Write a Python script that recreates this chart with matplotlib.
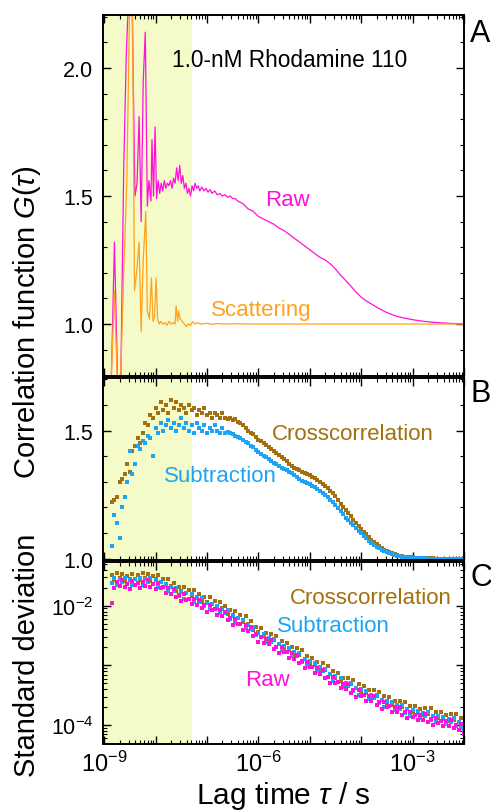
import matplotlib
matplotlib.use("Agg")
import matplotlib.pyplot as plt
import numpy as np
from matplotlib.ticker import LogLocator, MultipleLocator, FuncFormatter, NullFormatter

plt.rcParams['font.family'] = ['Liberation Sans', 'DejaVu Sans']
plt.rcParams['mathtext.fontset'] = 'custom'
plt.rcParams['mathtext.rm'] = 'Liberation Sans'
plt.rcParams['mathtext.it'] = 'Liberation Sans:italic'

# --- panel A: raw and scattering correlation (log10 lag time, G) ---
RAW_EXP = [-8.87, -8.80, -8.73, -8.68, -8.62, -8.57, -8.52, -8.46, -8.40, -8.36,
           -8.32, -8.28, -8.24, -8.20, -8.16, -8.13, -8.09, -8.07, -8.04, -8.01,
           -7.98, -7.95, -7.92, -7.89, -7.86, -7.83, -7.80, -7.77, -7.74, -7.71,
           -7.68, -7.65, -7.62, -7.59, -7.56, -7.53, -7.50, -7.47, -7.44, -7.41,
           -7.38, -7.35, -7.32, -7.29, -7.26, -7.23, -7.20, -7.17, -7.14, -7.10,
           -7.06, -7.02, -6.98, -6.94, -6.90, -6.85, -6.80, -6.75, -6.70, -6.65,
           -6.60, -6.55, -6.50, -6.45, -6.40, -6.35, -6.30, -6.25, -6.20, -6.10,
           -6.00, -5.90, -5.80, -5.70, -5.60, -5.50, -5.40, -5.30, -5.20, -5.10,
           -5.00, -4.90, -4.80, -4.70, -4.60, -4.50, -4.40, -4.30, -4.20, -4.10,
           -4.00, -3.90, -3.80, -3.70, -3.60, -3.50, -3.40, -3.30, -3.20, -3.00,
           -2.80, -2.60, -2.40, -2.20, -2.00]
RAW_G = [0.70, 1.32, 0.70, 0.72, 1.60, 2.05, 2.30, 2.30, 1.50, 1.55,
         1.81, 1.40, 1.95, 2.14, 1.46, 1.56, 1.48, 1.72, 1.50, 1.77,
         1.49, 1.56, 1.51, 1.55, 1.52, 1.56, 1.53, 1.55, 1.54, 1.56,
         1.53, 1.57, 1.55, 1.61, 1.56, 1.62, 1.55, 1.58, 1.53, 1.55,
         1.51, 1.53, 1.50, 1.54, 1.52, 1.55, 1.53, 1.54, 1.52, 1.535,
         1.52, 1.53, 1.515, 1.525, 1.51, 1.52, 1.505, 1.51, 1.50, 1.505,
         1.495, 1.50, 1.49, 1.49, 1.48, 1.475, 1.47, 1.46, 1.45, 1.44,
         1.42, 1.41, 1.40, 1.39, 1.375, 1.365, 1.35, 1.335, 1.32, 1.305,
         1.29, 1.275, 1.26, 1.25, 1.235, 1.215, 1.19, 1.17, 1.148, 1.125,
         1.105, 1.09, 1.078, 1.066, 1.055, 1.045, 1.037, 1.030, 1.025, 1.017,
         1.011, 1.007, 1.004, 1.002, 1.000]

SCAT_EXP = [-8.87, -8.80, -8.74, -8.68, -8.62, -8.56, -8.50, -8.45, -8.41, -8.37,
            -8.32, -8.28, -8.24, -8.19, -8.16, -8.12, -8.08, -8.05, -8.02, -7.99,
            -7.96, -7.93, -7.90, -7.86, -7.82, -7.78, -7.74, -7.70, -7.66, -7.62,
            -7.60, -7.57, -7.55, -7.52, -7.48, -7.44, -7.40, -7.36, -7.32, -7.28,
            -7.24, -7.20, -7.10, -7.00, -6.90, -6.80, -6.70, -6.50, -6.00, -5.00,
            -4.00, -3.00, -2.00]
SCAT_G = [0.75, 1.13, 0.75, 0.78, 1.20, 1.55, 2.30, 2.30, 1.13, 1.20,
          1.32, 0.97, 1.25, 1.44, 1.05, 1.02, 1.18, 1.01, 1.03, 1.18,
          1.02, 1.00, 1.01, 1.00, 1.005, 0.995, 1.01, 1.00, 1.005, 1.00,
          1.07, 1.01, 1.05, 1.02, 1.01, 1.00, 0.99, 1.00, 0.995, 1.01,
          1.00, 1.005, 1.00, 1.003, 0.999, 1.002, 1.00, 1.001, 1.00, 1.00,
          1.00, 1.00, 1.00]

# --- panels B and C share the lag-time grid (log10 s), 0.05 steps ---
LAG_EXP = [-8.85, -8.80, -8.75, -8.70, -8.65, -8.60, -8.55, -8.50, -8.45, -8.40,
           -8.35, -8.30, -8.25, -8.20, -8.15, -8.10, -8.05, -8.00, -7.95, -7.90,
           -7.85, -7.80, -7.75, -7.70, -7.65, -7.60, -7.55, -7.50, -7.45, -7.40,
           -7.35, -7.30, -7.25, -7.20, -7.15, -7.10, -7.05, -7.00, -6.95, -6.90,
           -6.85, -6.80, -6.75, -6.70, -6.65, -6.60, -6.55, -6.50, -6.45, -6.40,
           -6.35, -6.30, -6.25, -6.20, -6.15, -6.10, -6.05, -6.00,
           -5.95, -5.90, -5.85, -5.80, -5.75, -5.70, -5.65, -5.60, -5.55, -5.50,
           -5.45, -5.40, -5.35, -5.30, -5.25, -5.20, -5.15, -5.10, -5.05, -5.00,
           -4.95, -4.90, -4.85, -4.80, -4.75, -4.70, -4.65, -4.60, -4.55, -4.50,
           -4.45, -4.40, -4.35, -4.30, -4.25, -4.20, -4.15, -4.10, -4.05, -4.00,
           -3.95, -3.90, -3.85, -3.80, -3.75, -3.70, -3.65, -3.60, -3.55, -3.50,
           -3.45, -3.40, -3.35, -3.30, -3.25, -3.20, -3.15, -3.10, -3.05, -3.00,
           -2.95, -2.90, -2.85, -2.80, -2.75, -2.70, -2.65, -2.60, -2.55, -2.50,
           -2.45, -2.40, -2.35, -2.30, -2.25, -2.20, -2.15, -2.10, -2.05, -2.00]

CROSS_B = [1.22, 1.23, 1.24, 1.30, 1.31, 1.33, 1.37, 1.34, 1.42, 1.44,
           1.47, 1.45, 1.49, 1.53, 1.52, 1.56, 1.55, 1.59, 1.57, 1.61,
           1.58, 1.60, 1.57, 1.62, 1.59, 1.61, 1.58, 1.60, 1.59, 1.57,
           1.60, 1.58, 1.59, 1.56, 1.58, 1.57, 1.59, 1.56, 1.57, 1.55,
           1.57, 1.56, 1.55, 1.57, 1.55, 1.545, 1.55, 1.54, 1.545, 1.535,
           1.53, 1.52, 1.51, 1.50, 1.49, 1.485, 1.475, 1.465,
           1.458, 1.45, 1.443, 1.435, 1.428, 1.42, 1.412, 1.405, 1.397, 1.39,
           1.38, 1.37, 1.362, 1.355, 1.35, 1.345, 1.34, 1.335, 1.33, 1.325,
           1.32, 1.315, 1.308, 1.30, 1.293, 1.285, 1.275, 1.265, 1.255, 1.245,
           1.23, 1.215, 1.203, 1.19, 1.178, 1.165, 1.153, 1.14, 1.128, 1.115,
           1.105, 1.095, 1.085, 1.075, 1.066, 1.057, 1.049, 1.042, 1.036, 1.031,
           1.026, 1.022, 1.018, 1.015, 1.012, 1.010, 1.008, 1.007, 1.006, 1.005,
           1.004, 1.003, 1.0025, 1.002, 1.0015, 1.001, 1.001, 1.001, 1.0005, 1.000,
           1.000, 1.000, 1.000, 1.000, 1.000, 1.000, 1.000, 1.000, 1.000, 1.000]
SUB_B = [1.05, 1.17, 1.14, 1.08, 1.20, 1.24, 1.30, 1.42, 1.33, 1.37,
         1.44, 1.43, 1.46, 1.45, 1.48, 1.47, 1.40, 1.51, 1.49, 1.53,
         1.50, 1.52, 1.54, 1.51, 1.53, 1.50, 1.52, 1.55, 1.51, 1.53,
         1.50, 1.52, 1.49, 1.53, 1.51, 1.50, 1.52, 1.49, 1.51, 1.50,
         1.52, 1.50, 1.49, 1.51, 1.49, 1.495, 1.49, 1.485, 1.48, 1.475,
         1.47, 1.465, 1.455, 1.45, 1.44, 1.435, 1.425, 1.415,
         1.408, 1.40, 1.395, 1.39, 1.383, 1.375, 1.368, 1.36, 1.355, 1.35,
         1.345, 1.34, 1.333, 1.325, 1.318, 1.31, 1.305, 1.30, 1.295, 1.29,
         1.285, 1.28, 1.273, 1.265, 1.258, 1.25, 1.24, 1.23, 1.22, 1.21,
         1.198, 1.185, 1.173, 1.16, 1.15, 1.14, 1.13, 1.12, 1.11, 1.10,
         1.09, 1.08, 1.071, 1.062, 1.054, 1.047, 1.041, 1.035, 1.03, 1.025,
         1.021, 1.017, 1.014, 1.011, 1.009, 1.007, 1.006, 1.005, 1.004, 1.003,
         1.0025, 1.002, 1.0015, 1.001, 1.001, 1.000, 1.000, 1.000, 1.000, 1.000,
         1.000, 1.000, 1.000, 1.000, 1.000, 1.000, 1.000, 1.000, 1.000, 1.000]

# standard deviation, log10 values
CROSS_C = [-1.48, -1.57, -1.45, -1.54, -1.47, -1.59, -1.50, -1.56, -1.46, -1.55,
           -1.48, -1.57, -1.45, -1.54, -1.47, -1.59, -1.50, -1.56, -1.49, -1.60,
           -1.55, -1.66, -1.56, -1.67, -1.62, -1.76, -1.69, -1.76, -1.68, -1.79,
           -1.74, -1.84, -1.74, -1.85, -1.80, -1.93, -1.86, -1.94, -1.86, -1.97,
           -1.92, -2.03, -1.93, -2.04, -2.00, -2.14, -2.08, -2.16, -2.09, -2.20,
           -2.16, -2.27, -2.18, -2.30, -2.26, -2.41, -2.35, -2.44,
           -2.38, -2.51, -2.46, -2.58, -2.47, -2.58, -2.51, -2.65, -2.59, -2.71,
           -2.62, -2.75, -2.70, -2.82, -2.71, -2.82, -2.75, -2.89, -2.84, -2.96,
           -2.87, -3.00, -2.95, -3.07, -2.96, -3.08, -3.01, -3.15, -3.10, -3.22,
           -3.13, -3.26, -3.21, -3.33, -3.21, -3.32, -3.24, -3.38, -3.32, -3.44,
           -3.34, -3.47, -3.41, -3.53, -3.41, -3.52, -3.44, -3.58, -3.52, -3.63,
           -3.53, -3.66, -3.60, -3.71, -3.59, -3.69, -3.61, -3.74, -3.68, -3.79,
           -3.68, -3.80, -3.73, -3.84, -3.71, -3.81, -3.72, -3.85, -3.78, -3.89,
           -3.78, -3.90, -3.83, -3.94, -3.81, -3.91, -3.82, -3.95, -3.88, -3.99]
SUB_C = [-1.62, -1.54, -1.65, -1.56, -1.60, -1.53, -1.64, -1.57, -1.66, -1.55,
         -1.62, -1.54, -1.65, -1.56, -1.60, -1.53, -1.64, -1.57, -1.69, -1.60,
         -1.69, -1.63, -1.76, -1.69, -1.75, -1.70, -1.83, -1.77, -1.88, -1.79,
         -1.88, -1.81, -1.94, -1.87, -1.93, -1.87, -2.00, -1.95, -2.06, -1.97,
         -2.06, -2.00, -2.13, -2.06, -2.13, -2.08, -2.22, -2.17, -2.29, -2.20,
         -2.30, -2.24, -2.38, -2.32, -2.39, -2.35, -2.49, -2.45,
         -2.53, -2.47, -2.61, -2.54, -2.61, -2.56, -2.70, -2.65, -2.76, -2.67,
         -2.77, -2.71, -2.85, -2.78, -2.85, -2.80, -2.94, -2.89, -3.01, -2.92,
         -3.02, -2.96, -3.10, -3.03, -3.10, -3.06, -3.20, -3.15, -3.27, -3.18,
         -3.28, -3.22, -3.36, -3.29, -3.35, -3.30, -3.43, -3.38, -3.49, -3.40,
         -3.49, -3.43, -3.56, -3.49, -3.55, -3.50, -3.63, -3.58, -3.69, -3.59,
         -3.68, -3.62, -3.75, -3.67, -3.73, -3.67, -3.80, -3.74, -3.85, -3.75,
         -3.83, -3.76, -3.88, -3.80, -3.85, -3.79, -3.91, -3.85, -3.95, -3.85,
         -3.93, -3.86, -3.98, -3.90, -3.95, -3.89, -4.01, -3.95, -4.05, -4.08]
RAW_C = [-1.95, -1.70, -1.60, -1.67, -1.57, -1.69, -1.63, -1.72, -1.59, -1.66,
         -1.62, -1.70, -1.60, -1.67, -1.57, -1.69, -1.63, -1.72, -1.62, -1.71,
         -1.69, -1.79, -1.71, -1.80, -1.72, -1.86, -1.82, -1.92, -1.81, -1.90,
         -1.88, -1.97, -1.89, -1.98, -1.90, -2.03, -1.99, -2.10, -1.99, -2.08,
         -2.06, -2.16, -2.08, -2.17, -2.10, -2.24, -2.21, -2.32, -2.22, -2.31,
         -2.30, -2.40, -2.33, -2.43, -2.36, -2.51, -2.48, -2.60,
         -2.53, -2.63, -2.56, -2.65, -2.58, -2.72, -2.69, -2.80, -2.69, -2.78,
         -2.77, -2.87, -2.80, -2.89, -2.82, -2.96, -2.93, -3.04, -2.94, -3.03,
         -3.02, -3.12, -3.05, -3.14, -3.07, -3.22, -3.19, -3.30, -3.20, -3.29,
         -3.28, -3.38, -3.31, -3.40, -3.32, -3.46, -3.42, -3.53, -3.42, -3.51,
         -3.49, -3.59, -3.51, -3.60, -3.52, -3.66, -3.62, -3.73, -3.62, -3.70,
         -3.68, -3.78, -3.70, -3.78, -3.70, -3.83, -3.79, -3.89, -3.78, -3.86,
         -3.83, -3.92, -3.83, -3.91, -3.82, -3.95, -3.90, -4.00, -3.88, -3.96,
         -3.93, -4.02, -3.93, -4.01, -3.92, -4.05, -4.00, -4.08, -3.98, -4.15]

C_RAW = '#ff10dc'
C_SCAT = '#ffa21e'
C_CROSS = '#a2700e'
C_SUB = '#1ea4f2'
SHADE = '#f4fbc9'
XMIN, XMAX, SHADE_END = 9.5e-10, 1.0e-2, 5.2e-8

tau_raw = 10.0 ** np.array(RAW_EXP)
tau_scat = 10.0 ** np.array(SCAT_EXP)
tau = 10.0 ** np.array(LAG_EXP)


def dec_label(shown):
    def f(v, pos):
        e = int(round(np.log10(v)))
        return r'$10^{%d}$' % e if e in shown else ''
    return FuncFormatter(f)


def style(ax):
    ax.set_xscale('log')
    ax.set_xlim(XMIN, XMAX)
    ax.axvspan(XMIN, SHADE_END, color=SHADE, lw=0, zorder=0)
    ax.xaxis.set_major_locator(LogLocator(base=10, numticks=20))
    ax.xaxis.set_minor_locator(LogLocator(base=10, subs=np.arange(2, 10), numticks=20))
    ax.xaxis.set_minor_formatter(NullFormatter())
    ax.tick_params(which='both', direction='in', top=True, right=True, labelsize=15.5)
    ax.tick_params(axis='y', pad=7)
    ax.tick_params(which='major', length=6, width=1)
    ax.tick_params(which='minor', length=3, width=0.8)
    for s in ax.spines.values():
        s.set_linewidth(1.4)


fig = plt.figure(figsize=(4.91, 8.12), dpi=100)
axA = fig.add_axes([0.2098, 0.5357, 0.7352, 0.4446])
axB = fig.add_axes([0.2098, 0.3091, 0.7352, 0.2241])
axC = fig.add_axes([0.2098, 0.0825, 0.7352, 0.2241])

# A
style(axA)
axA.plot(tau_raw, RAW_G, color=C_RAW, lw=0.9)
axA.plot(tau_scat, SCAT_G, color=C_SCAT, lw=0.9)
axA.set_ylim(0.797, 2.207)
axA.yaxis.set_major_locator(MultipleLocator(0.5))
axA.yaxis.set_minor_locator(MultipleLocator(0.1))
axA.yaxis.set_major_formatter(FuncFormatter(lambda v, p: '%.1f' % v))
axA.tick_params(axis='x', labelbottom=False)
axA.text(10 ** -7.68, 2.035, '1.0-nM Rhodamine 110', fontsize=16.3, va='center')
axA.text(10 ** -5.86, 1.485, 'Raw', color=C_RAW, fontsize=16, va='center')
axA.text(10 ** -6.92, 1.055, 'Scattering', color=C_SCAT, fontsize=16, va='center')

# B
style(axB)
big = tau >= 3e-7
axB.plot(tau[big], np.array(CROSS_B)[big], color=C_CROSS, lw=1.0)
axB.plot(tau[big], np.array(SUB_B)[big], color=C_SUB, lw=1.0)
axB.plot(tau, CROSS_B, 's', color=C_CROSS, ms=2.3, mew=0)
axB.plot(tau, SUB_B, 's', color=C_SUB, ms=2.3, mew=0)
axB.set_ylim(0.995, 1.705)
axB.yaxis.set_major_locator(MultipleLocator(0.5))
axB.yaxis.set_minor_locator(MultipleLocator(0.1))
axB.yaxis.set_major_formatter(FuncFormatter(lambda v, p: '%.1f' % v))
axB.tick_params(axis='x', labelbottom=False)
axB.text(10 ** -5.73, 1.49, 'Crosscorrelation', color=C_CROSS, fontsize=16, va='center')
axB.text(10 ** -7.83, 1.325, 'Subtraction', color=C_SUB, fontsize=16, va='center')

# C
style(axC)
axC.set_yscale('log')
axC.plot(tau, 10.0 ** np.array(CROSS_C), 's', color=C_CROSS, ms=2.4, mew=0)
axC.plot(tau, 10.0 ** np.array(SUB_C), 's', color=C_SUB, ms=2.4, mew=0)
axC.plot(tau, 10.0 ** np.array(RAW_C), 's', color=C_RAW, ms=2.4, mew=0)
axC.set_ylim(4.8e-5, 5.4e-2)
axC.yaxis.set_major_locator(LogLocator(base=10, numticks=10))
axC.yaxis.set_minor_locator(LogLocator(base=10, subs=np.arange(2, 10), numticks=10))
axC.yaxis.set_major_formatter(dec_label((-4, -2)))
axC.yaxis.set_minor_formatter(NullFormatter())
axC.xaxis.set_major_formatter(dec_label((-9, -6, -3)))
axC.tick_params(axis='x', labelsize=17, pad=5)
axC.text(10 ** -5.38, 0.014, 'Crosscorrelation', color=C_CROSS, fontsize=16, va='center')
axC.text(10 ** -5.64, 0.0046, 'Subtraction', color=C_SUB, fontsize=16, va='center')
axC.text(10 ** -6.25, 5.7e-4, 'Raw', color=C_RAW, fontsize=16, va='center')
axC.set_xlabel(r'Lag time $\tau$ / s', fontsize=21.5, labelpad=2)

# axis titles and panel letters
fig.text(0.055, 0.603, r'Correlation function $G(\tau)$', rotation=90,
         fontsize=21, ha='center', va='center')
fig.text(0.055, 0.193, 'Standard deviation', rotation=90,
         fontsize=21, ha='center', va='center')
for letter, y in (('A', 0.958), ('B', 0.515), ('C', 0.288)):
    fig.text(0.958, y, letter, fontsize=22, ha='left', va='center')

fig.savefig('out.png', dpi=100)
